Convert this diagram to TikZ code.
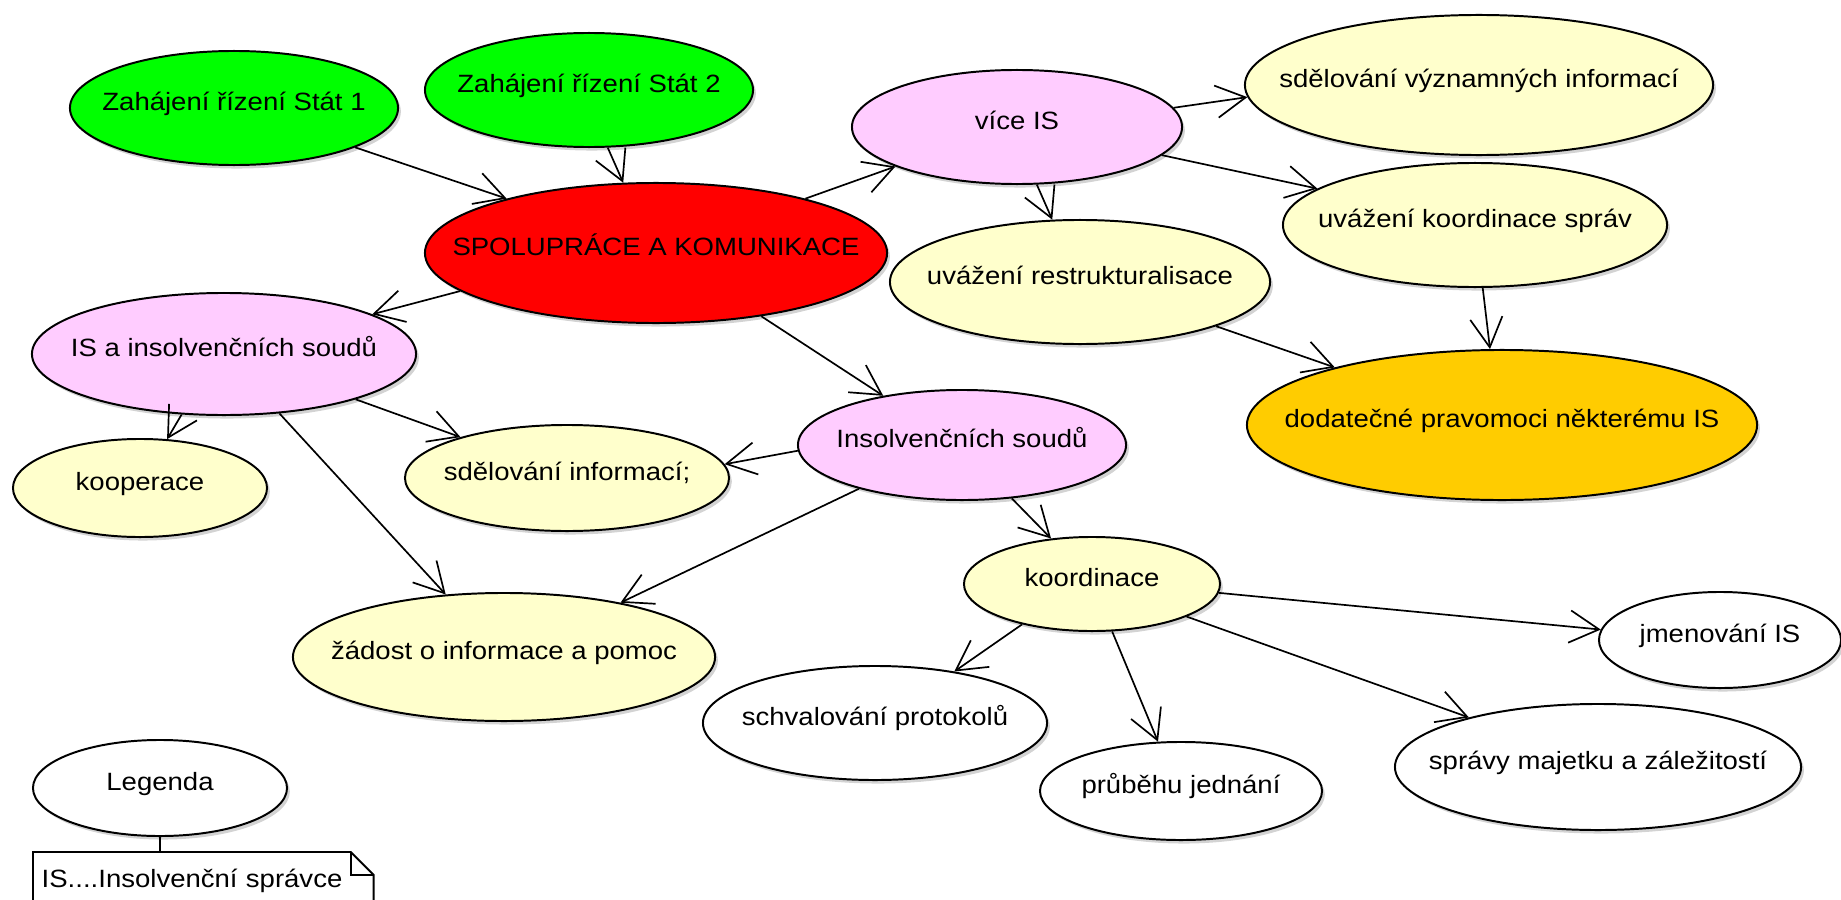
\documentclass[tikz,border=0pt]{standalone}
\usepackage{fontspec}
\setmainfont{Liberation Sans}[FakeStretch=1.1]
\usetikzlibrary{shapes.geometric,arrows.meta,shadows}

\definecolor{zgreen}{RGB}{0,255,0}
\definecolor{zred}{RGB}{255,0,0}
\definecolor{zpink}{RGB}{255,204,255}
\definecolor{zyellow}{RGB}{255,255,204}
\definecolor{zorange}{RGB}{255,204,0}

\tikzset{
  bubble/.style={ellipse,draw,line width=1.4pt,inner sep=0pt,
    font=\fontsize{17.8}{21}\selectfont,text height=14pt,text depth=10pt,
    execute at begin node={\hbox to 0pt\bgroup\hss},
    execute at end node={\hss\egroup},
    drop shadow={shadow xshift=2pt,shadow yshift=-2.5pt,opacity=.35}},
  dims/.style 2 args={minimum width=#1*0.05cm,minimum height=#2*0.05cm},
  link/.style={line width=1.2pt,-{Straight Barb[length=21pt,width=23pt]}}
}

\begin{document}
\begin{tikzpicture}[x=0.025cm,y=-0.025cm]
  \useasboundingbox (0,0) rectangle (1841,900);
  % uzly
  \node[bubble,fill=zgreen,dims={164}{57}] (stat1) at (234,108) {Zahájení řízení Stát 1};
  \node[bubble,fill=zgreen,dims={164}{57}] (stat2) at (589,90) {Zahájení řízení Stát 2};
  \node[bubble,fill=zred,dims={231}{70}] (spol) at (656,253) {SPOLUPRÁCE A KOMUNIKACE};
  \node[bubble,fill=zpink,dims={165}{57}] (vice) at (1017,127) {více IS};
  \node[bubble,fill=zpink,dims={192}{61}] (isa) at (224,354) {IS a insolvenčních soudů};
  \node[bubble,fill=zpink,dims={164}{55}] (insol) at (962,445) {Insolvenčních soudů};
  \node[bubble,fill=zyellow,dims={127}{49}] (koop) at (140,488) {kooperace};
  \node[bubble,fill=zyellow,dims={162}{53}] (sdinf) at (567,478) {sdělování informací;};
  \node[bubble,fill=zyellow,dims={211}{64}] (zad) at (504,657) {žádost o informace a pomoc};
  \node[bubble,fill=zyellow,dims={234}{70}] (sdvyz) at (1479,85) {sdělování významných informací};
  \node[bubble,fill=zyellow,dims={190}{62}] (uvres) at (1080,282) {uvážení restrukturalisace};
  \node[bubble,fill=zyellow,dims={192}{62}] (uvkoor) at (1475,225) {uvážení koordinace správ};
  \node[bubble,fill=zorange,dims={255}{75}] (dod) at (1502,425) {dodatečné pravomoci některému IS};
  \node[bubble,fill=zyellow,dims={128}{47}] (koord) at (1092,584) {koordinace};
  \node[bubble,fill=white,dims={172}{57}] (schv) at (875,723) {schvalování protokolů};
  \node[bubble,fill=white,dims={141}{49}] (prub) at (1181,791) {průběhu jednání};
  \node[bubble,fill=white,dims={121}{48}] (jmen) at (1720,640) {jmenování IS};
  \node[bubble,fill=white,dims={203}{63}] (spr) at (1598,767) {správy majetku a záležitostí};
  \node[bubble,fill=white,dims={127}{48}] (leg) at (160,788) {Legenda};
  % legenda
  \node[anchor=north west,inner xsep=6pt,text width=8.08cm,minimum height=1.6cm,align=left,
    font=\fontsize{17.8}{21}\selectfont,text height=14pt,text depth=10pt] (note) at (33,852) {IS....Insolvenční správce};
  \draw[line width=1.4pt] (note.south west) -- (note.north west) -- ([xshift=-0.575cm]note.north east)
    -- ([yshift=-0.575cm]note.north east) -- (note.south east);
  \draw[line width=1.4pt] ([xshift=-0.575cm]note.north east) |- ([yshift=-0.575cm]note.north east);
  \draw[line width=1.4pt] (leg.south) -- (leg.south |- note.north);
  % sipky
  \draw[link] (stat1.-18.6) -- (spol.160.7);
  \draw[link] (stat2.-72.2) -- (spol.115.9);
  \draw[link] (spol.20.3) -- (vice.198.3);
  \draw[link] (spol.191.9) -- (isa.15.2);
  \draw[link] (spol.-31.1) -- (insol.148.6);
  \draw[link] (vice.7.2) -- (sdvyz.183.2);
  \draw[link] (vice.-11.6) -- (uvkoor.167.9);
  \draw[link] (vice.-71) -- (uvres.114.3);
  \draw[link] (uvres.-18.7) -- (dod.161.1);
  \draw[link] (uvkoor.-83.6) -- (dod.99.1);
  \draw[link] (isa.235.5) -- (koop.61.5);
  \draw[link] (isa.-19.7) -- (sdinf.159.4);
  \draw[link] (isa.-47.4) -- (zad.133.6);
  \draw[link] (insol.182.8) -- (sdinf.5.9);
  \draw[link] (insol.203.4) -- (zad.25);
  \draw[link] (insol.-47.2) -- (koord.132.4);
  \draw[link] (koord.210.7) -- (schv.33.2);
  \draw[link] (koord.-67.4) -- (prub.115.1);
  \draw[link] (koord.-4.9) -- (jmen.175.2);
  \draw[link] (koord.-19.7) -- (spr.159.8);
\end{tikzpicture}
\end{document}
